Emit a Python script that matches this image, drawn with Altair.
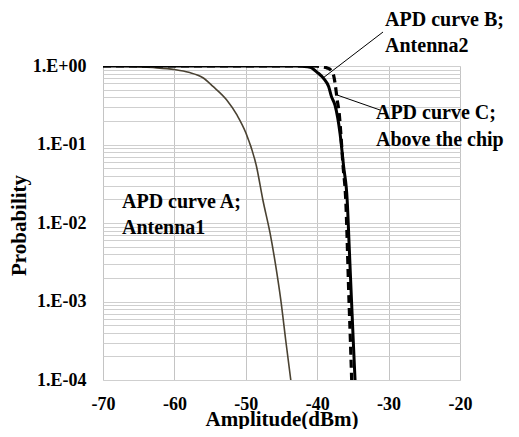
import altair as alt
import pandas as pd

# ---- data ----
a_x = [-70, -66, -63, -60, -58, -56, -54.6, -52.7, -51.2, -50, -48.5, -47.6, -46.6, -45.8, -45.1, -44.4, -43.7]
a_logp = [0, -0.005, -0.02, -0.045, -0.08, -0.15, -0.26, -0.43, -0.63, -0.85, -1.28, -1.71, -2.13, -2.55, -2.98, -3.5, -4.0]

b_x = [-70, -43, -42, -41, -40, -39, -38.4, -38.0, -37.5, -36.8, -36.3, -35.8, -35.5, -35.2, -34.95, -34.7]
b_logp = [0, 0, -0.004, -0.015, -0.08, -0.17, -0.26, -0.39, -0.5, -0.86, -1.28, -1.71, -2.34, -2.98, -3.5, -4.0]

c_x = [-70, -41, -40, -39.3, -38.6, -38.0, -37.7, -37.5, -37.2, -36.9, -36.7, -36.4, -36.0, -35.55, -35.35, -35.17]
c_logp = [0, 0, -0.003, -0.01, -0.025, -0.06, -0.12, -0.22, -0.43, -0.62, -0.85, -1.25, -1.71, -2.98, -3.5, -4.0]

x_ticks = [-70, -60, -50, -40, -30, -20]
y_ticks = [m * 10.0 ** e for e in (-4, -3, -2, -1) for m in range(1, 10)] + [1.0]

ann_text = ["APD curve A;", "Antenna1", "APD curve B;", "Antenna2", "APD curve C;", "Above the chip"]
ann_x = [-67.34, -67.34, -30.5, -30.5, -31.77, -31.77]
ann_p = [0.01552, 0.00724, 3.234, 1.507, 0.2113, 0.0957]

lead_id = ["B", "B", "C", "C"]
lead_x = [-30.78, -39.19, -37.5, -31.2]
lead_p = [2.71, 0.703, 0.436, 0.275]

# ---- tables ----
rows = []
for name, xs, ls in (("A", a_x, a_logp), ("B", b_x, b_logp), ("C", c_x, c_logp)):
    for xv, lv in zip(xs, ls):
        rows.append({"curve": name, "x": xv, "p": 10 ** lv})
curves = pd.DataFrame(rows)
ann = pd.DataFrame({"t": ann_text, "x": ann_x, "p": ann_p})
lead = pd.DataFrame({"id": lead_id, "x": lead_x, "p": lead_p})

FONT = "'Liberation Serif', 'Times New Roman', 'DejaVu Serif', serif"
xs = alt.Scale(domain=[-70, -20], nice=False)
ys = alt.Scale(type="log", domain=[1e-4, 1], nice=False)

label_expr = ("abs(log(datum.value)/LN10 - round(log(datum.value)/LN10)) < 0.001 ? "
              "(round(log(datum.value)/LN10) == 0 ? '1.E+00' : '1.E-0' + (-round(log(datum.value)/LN10))) : ''")

base = alt.Chart(curves)

line_a = base.transform_filter(alt.datum.curve == "A").mark_line(
    color="#4a4232", strokeWidth=1.6, interpolate="monotone", clip=True
).encode(
    x=alt.X("x:Q", scale=xs, title="Amplitude(dBm)",
            axis=alt.Axis(values=x_ticks, labelExpr="'' + datum.value", grid=True, gridColor="#c4c4c4",
                          gridWidth=1, ticks=False, domain=False, labelPadding=29, labelFlush=False,
                          labelBaseline="alphabetic",
                          labelFont=FONT, labelFontSize=18, labelFontWeight="bold", labelColor="black",
                          titleFont=FONT, titleFontSize=21, titleFontWeight="bold", titleColor="black",
                          titleBaseline="alphabetic", titleY=45)),
    y=alt.Y("p:Q", scale=ys, title="Probability",
            axis=alt.Axis(values=y_ticks, labelExpr=label_expr, grid=True, gridColor="#cfcfcf", gridWidth=1,
                          ticks=False, domain=False, labelPadding=17, labelFlush=False,
                          labelFont=FONT, labelFontSize=18, labelFontWeight="bold", labelColor="black",
                          titleFont=FONT, titleFontSize=21, titleFontWeight="bold", titleColor="black",
                          titleBaseline="alphabetic", titleAlign="center", titleAngle=270,
                          titleX=-78, titleY=159)),
)

line_b = base.transform_filter(alt.datum.curve == "B").mark_line(
    color="black", strokeWidth=3, interpolate="monotone", clip=True
).encode(x=alt.X("x:Q", scale=xs), y=alt.Y("p:Q", scale=ys))

line_c = base.transform_filter(alt.datum.curve == "C").mark_line(
    color="black", strokeWidth=3.2, strokeDash=[8, 5], interpolate="monotone", clip=True
).encode(x=alt.X("x:Q", scale=xs), y=alt.Y("p:Q", scale=ys))

leaders = alt.Chart(lead).mark_line(color="black", strokeWidth=1, clip=False).encode(
    x=alt.X("x:Q", scale=xs), y=alt.Y("p:Q", scale=ys), detail="id:N"
)

texts = alt.Chart(ann).mark_text(
    align="left", baseline="alphabetic", font=FONT, fontSize=20, fontWeight="bold", color="black", clip=False
).encode(x=alt.X("x:Q", scale=xs), y=alt.Y("p:Q", scale=ys), text="t:N")

chart = alt.layer(line_a, line_b, line_c, leaders, texts).properties(
    width=357, height=314,
    autosize=alt.AutoSizeParams(type="none"),
    padding={"left": 95, "top": 58, "right": 51, "bottom": 49},
).configure_view(stroke="black", strokeWidth=1.5).configure(background="white")

chart.save("out.html", embed_options={"renderer": "svg", "actions": False})
